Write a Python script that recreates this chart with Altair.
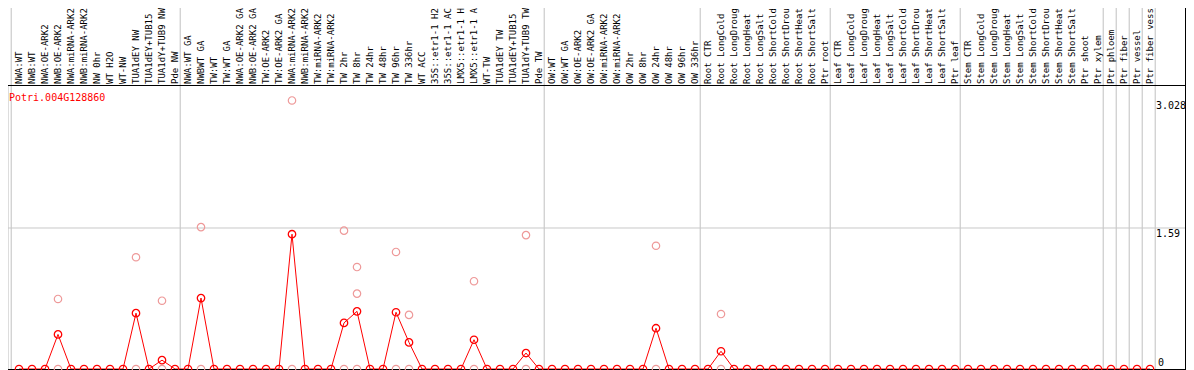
import altair as alt
import pandas as pd

gene = "Potri.004G128860"

categories = [
    "NWA:WT", "NWB:WT", "NWA:OE-ARK2", "NWB:OE-ARK2", "NWA:miRNA-ARK2", "NWB:miRNA-ARK2",
    "NW 0hr", "WT H2O", "WT-NW", "TUA1dEY NW", "TUA1dEY+TUB15", "TUA1dY+TUB9 NW", "Pde NW",
    "NWA:WT GA", "NWBWT GA", "TW:WT", "TW:WT GA", "NWA:OE-ARK2 GA", "NWB:OE-ARK2 GA",
    "TW:OE-ARK2", "TW:OE-ARK2 GA", "NWA:miRNA-ARK2", "NWB:miRNA-ARK2", "TW:miRNA-ARK2",
    "TW:miRNA-ARK2", "TW 2hr", "TW 8hr", "TW 24hr", "TW 48hr", "TW 96hr", "TW 336hr",
    "WT ACC", "35S::etr1-1 H2", "35S::etr1-1 AC", "LMX5::etr1-1 H", "LMX5::etr1-1 A",
    "WT-TW", "TUA1dEY TW", "TUA1dEY+TUB15", "TUA1dY+TUB9 TW", "Pde TW",
    "OW:WT", "OW:WT GA", "OW:OE-ARK2", "OW:OE-ARK2 GA", "OW:miRNA-ARK2", "OW:miRNA-ARK2",
    "OW 2hr", "OW 8hr", "OW 24hr", "OW 48hr", "OW 96hr", "OW 336hr",
    "Root CTR", "Root LongCold", "Root LongDroug", "Root LongHeat", "Root LongSalt",
    "Root ShortCold", "Root ShortDrou", "Root ShortHeat", "Root ShortSalt", "Ptr root",
    "Leaf CTR", "Leaf LongCold", "Leaf LongDroug", "Leaf LongHeat", "Leaf LongSalt",
    "Leaf ShortCold", "Leaf ShortDrou", "Leaf ShortHeat", "Leaf ShortSalt", "Ptr leaf",
    "Stem CTR", "Stem LongCold", "Stem LongDroug", "Stem LongHeat", "Stem LongSalt",
    "Stem ShortCold", "Stem ShortDrou", "Stem ShortHeat", "Stem ShortSalt", "Ptr shoot",
    "Ptr xylem", "Ptr phloem", "Ptr fiber", "Ptr vessel", "Ptr fiber vess",
]

mean_values = [
    0, 0, 0, 0.39, 0, 0, 0, 0, 0, 0.63, 0, 0.10, 0,
    0, 0.80, 0, 0, 0, 0, 0, 0, 1.52, 0, 0, 0, 0.52, 0.65, 0, 0, 0.64, 0.30,
    0, 0, 0, 0, 0.33, 0, 0, 0, 0.18, 0,
    0, 0, 0, 0, 0, 0, 0, 0, 0.46, 0, 0, 0,
    0, 0.20, 0, 0, 0, 0, 0, 0, 0, 0,
    0, 0, 0, 0, 0, 0, 0, 0, 0, 0,
    0, 0, 0, 0, 0, 0, 0, 0, 0, 0, 0,
    0, 0, 0, 0,
]

rep_index = [3, 3, 9, 9, 11, 11, 14, 14, 21, 21, 25, 25, 26, 26, 26,
             29, 29, 30, 30, 35, 35, 39, 39, 49, 49, 54, 54]
rep_values = [0.79, 0, 1.26, 0, 0.77, 0, 1.60, 0, 3.028, 0, 1.56, 0, 1.15, 0.85, 0,
              1.32, 0, 0.61, 0, 0.99, 0, 1.51, 0, 1.39, 0, 0.62, 0]

separator_after = [-1, 12, 40, 52, 62, 72, 83, 84, 85, 86, 87]
grid_values = [1.59]
tick_values = [0, 1.59, 3.028]
tick_labels = ["0", "1.59", "3.028"]

assert len(categories) == len(mean_values) == 88

W, H, TOP = 1178, 284, 77
STEP, X0 = 13.0, 11.0
d0 = -X0 / STEP
d1 = d0 + W / STEP
xs = alt.Scale(domain=[d0, d1], nice=False, zero=False)
ys = alt.Scale(domain=[0, 3.2025], nice=False, zero=False)

df = pd.DataFrame({"idx": list(range(len(categories))), "cat": categories, "val": mean_values})
reps = pd.DataFrame({"idx": rep_index, "val": rep_values})
seps = pd.DataFrame({"pos": [s + 0.4 for s in separator_after]})
grid = pd.DataFrame({"v": grid_values})
ticks = pd.DataFrame({"v": tick_values, "t": tick_labels})
title_df = pd.DataFrame({"t": [gene]})

MONO = "DejaVu Sans Mono"

sep_layer = alt.Chart(seps).mark_rule(color="#C0C0C0", strokeWidth=1).encode(
    x=alt.X("pos:Q", scale=xs, axis=None),
    y=alt.value(-TOP), y2=alt.value(H + 1),
)
grid_layer = alt.Chart(grid).mark_rule(color="#C8C8C8", strokeWidth=1).encode(
    y=alt.Y("v:Q", scale=ys, axis=None),
    x=alt.value(0), x2=alt.value(W),
)
line_layer = alt.Chart(df).mark_line(color="#FF0000", strokeWidth=1).encode(
    x=alt.X("idx:Q", scale=xs, axis=None),
    y=alt.Y("val:Q", scale=ys, axis=None),
)
top_line = alt.Chart(title_df).mark_rule(color="black", strokeWidth=1).encode(
    x=alt.value(0), x2=alt.value(W), y=alt.value(0.5)
)
bottom_line = alt.Chart(title_df).mark_rule(color="black", strokeWidth=1).encode(
    x=alt.value(0), x2=alt.value(W), y=alt.value(H + 0.5)
)
right_line = alt.Chart(title_df).mark_rule(color="black", strokeWidth=1).encode(
    x=alt.value(W - 0.5), y=alt.value(-TOP), y2=alt.value(H + 1)
)
rep_layer = alt.Chart(reps).mark_point(
    shape="circle", filled=False, size=55, strokeWidth=1.2, color="#EE9999", opacity=1
).encode(
    x=alt.X("idx:Q", scale=xs, axis=None),
    y=alt.Y("val:Q", scale=ys, axis=None),
)
pt_layer = alt.Chart(df).mark_point(
    shape="circle", filled=False, size=55, strokeWidth=1.3, color="#FF0000", opacity=1
).encode(
    x=alt.X("idx:Q", scale=xs, axis=None),
    y=alt.Y("val:Q", scale=ys, axis=None),
)
label_layer = alt.Chart(df).mark_text(
    angle=270, align="left", baseline="middle", font=MONO, fontSize=9, color="black"
).encode(
    x=alt.X("idx:Q", scale=xs, axis=None),
    y=alt.value(-1),
    text="cat:N",
)
tick_top = alt.Chart(ticks).transform_filter("datum.v > 0").mark_text(
    align="left", baseline="top", font=MONO, fontSize=10, color="black", dy=1
).encode(
    y=alt.Y("v:Q", scale=ys, axis=None),
    x=alt.value(1148),
    text="t:N",
)
tick_zero = alt.Chart(ticks).transform_filter("datum.v == 0").mark_text(
    align="left", baseline="alphabetic", font=MONO, fontSize=10, color="black", dy=-3
).encode(
    y=alt.Y("v:Q", scale=ys, axis=None),
    x=alt.value(1150),
    text="t:N",
)
title_layer = alt.Chart(title_df).mark_text(
    align="left", baseline="middle", font=MONO, fontSize=10, color="#FF0000"
).encode(
    x=alt.value(1), y=alt.value(13), text="t:N"
)

chart = alt.layer(
    sep_layer, grid_layer, line_layer, top_line, bottom_line, right_line,
    rep_layer, pt_layer, label_layer, tick_top, tick_zero, title_layer,
).properties(
    width=W, height=H,
    padding={"left": 0, "top": TOP, "right": 0, "bottom": 1},
    autosize=alt.AutoSizeParams(type="none"),
).configure_view(strokeWidth=0).configure(background="white")

chart.save("out.html", embed_options={"renderer": "svg", "actions": False})
